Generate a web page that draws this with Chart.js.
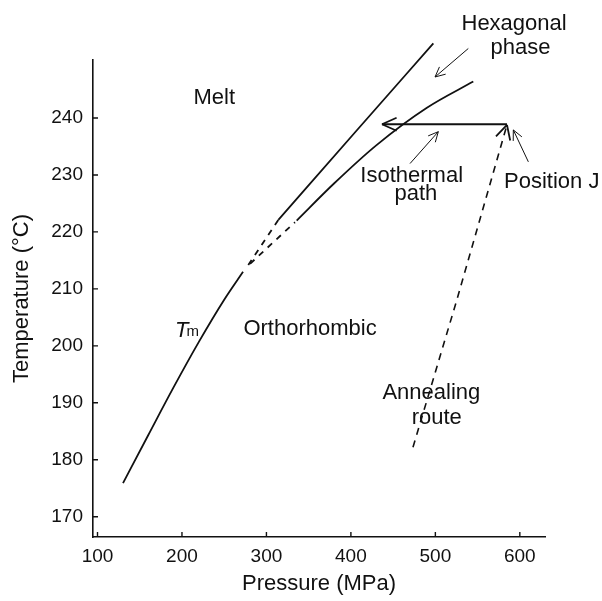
<!DOCTYPE html>
<html>
<head>
<meta charset="utf-8">
<script src="https://cdn.jsdelivr.net/npm/chart.js@4.4.1/dist/chart.umd.min.js"></script>
<style>
  html, body { margin: 0; padding: 0; background: #fff; }
  #wrap { width: 602px; height: 601px; }
</style>
</head>
<body>
<div id="wrap"><canvas id="phaseChart" width="602" height="601"></canvas></div>
<script>
// P-T phase diagram

const pressureTicks = [100, 200, 300, 400, 500, 600];
const tempTicks = [170, 180, 190, 200, 210, 220, 230, 240];

// melting line Tm
const tmPressure = [130.2, 160, 190, 220, 250, 272.3];
const tmTemp = [175.9, 184.3, 192.7, 200.7, 208.1, 213.0];
// melt / hexagonal boundary
const upperDashPressure = [278.5, 314.1];
const upperDashTemp = [214.2, 222.1];
const upperPressure = [314.1, 405, 497.6];
const upperTemp = [222.1, 237.5, 253.1];
// hexagonal / orthorhombic boundary
const lowerDashPressure = [280.6, 333.8];
const lowerDashTemp = [214.4, 221.7];
const lowerPressure = [335.8, 380, 430, 490, 544.9];
const lowerTemp = [222.0, 228.5, 235.2, 241.8, 246.4];
// isothermal path, from position J going left
const isoPressure = [584.8, 436.8];
const isoTemp = [238.9, 238.9];
// annealing route up to position J
const annealPressure = [473.5, 525.3, 584.8];
const annealTemp = [182.2, 208.0, 238.8];
// label pointers, tail then head
const hexPointerPressure = [539.0, 499.6];
const hexPointerTemp = [252.2, 247.2];
const isoPointerPressure = [470.0, 503.5];
const isoPointerTemp = [232.0, 237.6];
const jPointerPressure = [610.1, 592.3];
const jPointerTemp = [232.3, 237.9];

const ink = '#111';
const family = '"Liberation Sans", Arial, Helvetica, sans-serif';

// text labels, anchored in data units (baseline, centred)
const notes = [
    { text: 'Melt', p: 238.3, t: 242.45 },
    { text: 'Hexagonal', p: 593.2, t: 255.5 },
    { text: 'phase', p: 600.8, t: 251.2 },
    { text: 'Isothermal', p: 472.0, t: 228.8 },
    { text: 'path', p: 476.9, t: 225.6 },
    { text: 'Position J', p: 637.8, t: 227.7 },
    { text: 'Orthorhombic', p: 351.6, t: 201.9 },
    { text: 'Annealing', p: 495.2, t: 190.7 },
    { text: 'route', p: 501.6, t: 186.3 }
];

function pts(xs, ys) {
    return xs.map((x, i) => ({ x: x, y: ys[i] }));
}

function line(xs, ys, extra) {
    return Object.assign({
        data: pts(xs, ys),
        showLine: true,
        borderColor: ink,
        borderWidth: 1.8,
        pointRadius: 0,
        pointHoverRadius: 0,
        fill: false,
        clip: false,
        tension: 0
    }, extra || {});
}

const extras = {
    id: 'extras',
    afterDraw(chart) {
        const { ctx, scales: { x, y } } = chart;
        ctx.save();
        ctx.strokeStyle = ink;
        ctx.fillStyle = ink;

        // tick marks point inwards
        ctx.lineWidth = 1.4;
        ctx.beginPath();
        pressureTicks.forEach(v => {
            const px = x.getPixelForValue(v);
            ctx.moveTo(px, y.bottom);
            ctx.lineTo(px, y.bottom - 5);
        });
        tempTicks.forEach(v => {
            const py = y.getPixelForValue(v);
            ctx.moveTo(x.left, py);
            ctx.lineTo(x.left + 5, py);
        });
        ctx.stroke();

        // open arrow heads
        chart.data.datasets.forEach((ds, i) => {
            if (!ds.head) return;
            const el = chart.getDatasetMeta(i).data;
            const tip = el[el.length - 1], from = el[el.length - 2];
            const a = Math.atan2(tip.y - from.y, tip.x - from.x);
            ctx.setLineDash([]);
            ctx.lineWidth = ds.head.w;
            ctx.beginPath();
            [1, -1].forEach(s => {
                ctx.moveTo(tip.x, tip.y);
                ctx.lineTo(tip.x - ds.head.len * Math.cos(a + s * ds.head.ang),
                           tip.y - ds.head.len * Math.sin(a + s * ds.head.ang));
            });
            ctx.stroke();
        });

        // labels
        ctx.font = '22px ' + family;
        ctx.textAlign = 'center';
        ctx.textBaseline = 'alphabetic';
        notes.forEach(n => {
            ctx.fillText(n.text, x.getPixelForValue(n.p), y.getPixelForValue(n.t));
        });

        // T with subscript m
        const tx = x.getPixelForValue(191.8), ty = y.getPixelForValue(201.6);
        ctx.textAlign = 'left';
        ctx.font = 'italic 22px ' + family;
        ctx.fillText('T', tx, ty);
        const w = ctx.measureText('T').width;
        ctx.font = '15px ' + family;
        ctx.fillText('m', tx + w - 2, ty - 1);

        ctx.restore();
    }
};

Chart.defaults.font.family = family;
Chart.defaults.color = ink;

const ctx = document.getElementById('phaseChart').getContext('2d');
new Chart(ctx, {
    type: 'scatter',
    data: {
        datasets: [
            line(tmPressure, tmTemp, { cubicInterpolationMode: 'monotone' }),
            line(upperDashPressure, upperDashTemp, { borderDash: [6, 6] }),
            line(upperPressure, upperTemp, { cubicInterpolationMode: 'monotone' }),
            line(lowerDashPressure, lowerDashTemp, { borderDash: [6, 6] }),
            line(lowerPressure, lowerTemp, { cubicInterpolationMode: 'monotone' }),
            line(isoPressure, isoTemp, { head: { len: 16, ang: 0.42, w: 1.8 } }),
            line(annealPressure, annealTemp, { borderDash: [7, 6], borderWidth: 1.6, head: { len: 16, ang: 0.48, w: 1.8 } }),
            line(hexPointerPressure, hexPointerTemp, { borderWidth: 1, head: { len: 11, ang: 0.45, w: 1 } }),
            line(isoPointerPressure, isoPointerTemp, { borderWidth: 1, head: { len: 11, ang: 0.45, w: 1 } }),
            line(jPointerPressure, jPointerTemp, { borderWidth: 1, head: { len: 11, ang: 0.45, w: 1 } })
        ]
    },
    options: {
        responsive: false,
        animation: false,
        events: [],
        layout: {
            padding: { left: 0, right: 57, top: 60, bottom: 0 }
        },
        scales: {
            x: {
                type: 'linear',
                min: 94.67,
                max: 629.8,
                afterBuildTicks: function(scale) {
                    scale.ticks = pressureTicks.map(v => ({ value: v }));
                },
                afterFit: function(scale) {
                    scale.height = 64;
                },
                grid: { display: false, drawTicks: false },
                border: { display: true, color: ink, width: 1.6 },
                ticks: {
                    autoSkip: false,
                    maxRotation: 0,
                    padding: 8,
                    color: ink,
                    font: { size: 19 }
                },
                title: {
                    display: true,
                    text: 'Pressure (MPa)',
                    color: ink,
                    font: { size: 22 },
                    padding: { top: 0, bottom: 4 }
                }
            },
            y: {
                type: 'linear',
                min: 166.44,
                max: 250.18,
                afterBuildTicks: function(scale) {
                    scale.ticks = tempTicks.map(v => ({ value: v }));
                },
                afterFit: function(scale) {
                    scale.width = 93;
                },
                grid: { display: false, drawTicks: false },
                border: { display: true, color: ink, width: 1.6 },
                ticks: {
                    autoSkip: false,
                    padding: 10,
                    color: ink,
                    font: { size: 19 }
                },
                title: {
                    display: true,
                    text: 'Temperature (°C)',
                    color: ink,
                    font: { size: 22 },
                    padding: { top: 9, bottom: 0 }
                }
            }
        },
        plugins: {
            legend: { display: false },
            tooltip: { enabled: false }
        }
    },
    plugins: [extras]
});
</script>
</body>
</html>
